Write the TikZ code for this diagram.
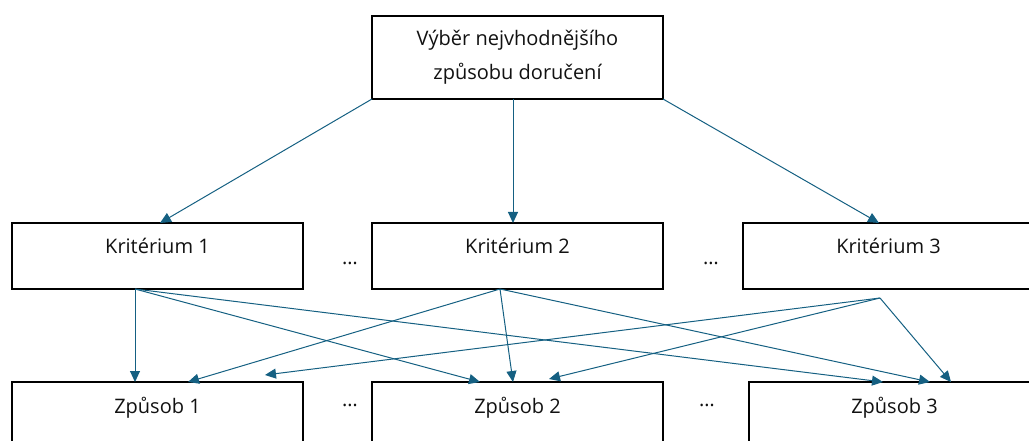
\documentclass[tikz,border=0pt]{standalone}
\usepackage{fontspec}
\setmainfont{Open Sans}
\usetikzlibrary{arrows.meta,calc}
\definecolor{acc}{HTML}{156082}
\definecolor{txt}{HTML}{111111}
\begin{document}
\begin{tikzpicture}[x=1pt,y=-1pt,
  box/.style={draw=black,line width=1.6pt,inner sep=0pt,outer sep=0pt,
    minimum width=291pt,text height=31pt,text depth=35pt,anchor=north,
    text=txt,font=\fontsize{20}{24}\selectfont},
  topbox/.style={draw=black,line width=1.6pt,inner sep=0pt,outer sep=0pt,
    minimum width=291pt,minimum height=83pt,align=center,
    text=txt,font=\fontsize{20}{34}\selectfont},
  conn/.style={draw=acc,line width=1pt,-{Triangle[length=11pt,width=10pt]}},
  dotsnode/.style={text=txt,font=\fontsize{20}{24}\selectfont,inner sep=0pt}]
\useasboundingbox (0,0) rectangle (1029,441);
\clip (0,0) rectangle (1029,441);
\node[topbox] (top) at (517.5,57.5) {Výběr nejvhodnějšího\\způsobu doručení};
\node[box] (k1) at (157.5,223) {Kritérium 1};
\node[box] (k2) at (517.5,223) {Kritérium 2};
\node[box] (k3) at (888.5,223) {Kritérium 3};
\node[box] (z1) at (157.5,382) {Způsob 1};
\node[box] (z2) at (517.5,382) {Způsob 2};
\node[box] (z3) at (894.5,382) {Způsob 3};
\node[dotsnode] (d1) at (350,263) {…};
\node[dotsnode] (d2) at (711,263) {…};
\node[dotsnode] (d3) at (350,405) {…};
\node[dotsnode] (d4) at (707,405) {…};
% top level arrows
\draw[conn] (top.south west) -- ($(k1.north west)+(148,0)$);
\draw[conn] ($(top.south west)+(141,0)$) -- ($(k2.north west)+(141,0)$);
\draw[conn] (top.south east) -- ($(k3.north west)+(136,0)$);
% sources
\coordinate (s1) at ($(k1.south west)+(123,0)$);
\coordinate (s2) at ($(k2.south west)+(128,0)$);
\coordinate (s3) at ($(k3.south west)+(137,9)$);
% criterion 1
\draw[conn] (s1) -- ($(z1.north west)+(123,0)$);
\draw[conn] (s1) -- ($(z2.north west)+(108,0)$);
\draw[conn] (s1) -- ($(z3.north west)+(134,0)$);
% criterion 2
\draw[conn] (s2) -- ($(z1.north west)+(176,0)$);
\draw[conn] (s2) -- ($(z2.north west)+(141,0)$);
\draw[conn] (s2) -- ($(z3.north west)+(181,0)$);
% criterion 3
\draw[conn] (s3) -- ($(z1.north west)+(253,-7)$);
\draw[conn] (s3) -- ($(z2.north west)+(177,-3)$);
\draw[conn] (s3) -- ($(z3.north west)+(202,0)$);
\end{tikzpicture}
\end{document}
